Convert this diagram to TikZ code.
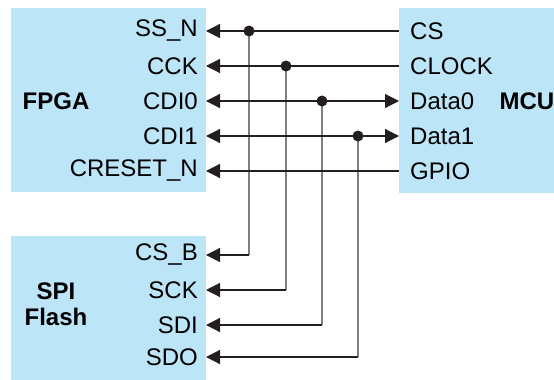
\documentclass[tikz,border=0pt]{standalone}
\usepackage{fontspec}
\setmainfont{Liberation Sans}
\usetikzlibrary{arrows.meta}
\definecolor{chipblue}{RGB}{189,229,248}
\definecolor{wire}{RGB}{35,31,32}
\definecolor{bus}{RGB}{128,128,128}
\begin{document}
\begin{tikzpicture}[x=1pt,y=-1pt]
    	\tikzstyle{chip}=[fill=chipblue, draw=none, anchor=north west, inner sep=0pt]
    	\tikzstyle{pinl}=[anchor=east, inner sep=0pt, font=\fontsize{24}{28}\selectfont]
    	\tikzstyle{pinr}=[anchor=west, inner sep=0pt, font=\fontsize{24}{28}\selectfont]
    	\tikzstyle{title}=[align=center, inner sep=0pt, font=\fontsize{24}{28}\selectfont\bfseries]
    	\tikzstyle{sig}=[draw=wire, line width=1.2pt, -{Triangle[length=14pt,width=14pt]}]
    	\tikzstyle{both}=[draw=wire, line width=1.2pt, {Triangle[length=14pt,width=14pt]}-{Triangle[length=14pt,width=14pt]}]
    	\tikzstyle{tap}=[draw=bus, line width=1.3pt]
    	\tikzstyle{dot}=[circle, fill=wire, inner sep=0pt, minimum size=11pt]
    	\useasboundingbox (0,0) rectangle (554,380);
    	
    	% Chips
    	\node at (11, 8) [chip, minimum width=195pt, minimum height=184pt] (fpga) {};
    	\node at (399, 8) [chip, minimum width=155pt, minimum height=185pt] (mcu) {};
    	\node at (11, 236) [chip, minimum width=195pt, minimum height=144pt] (flash) {};
    	\node at (56, 101) [title] (fpganame) {FPGA};
    	\node at (527, 101) [title] (mcuname) {MCU};
    	\node at (56, 304) [title] (flashname) {SPI\\[-2pt]Flash};
    	
    	% FPGA pins
    	\coordinate (ssn) at (206, 31);
    	\coordinate (cck) at (206, 66);
    	\coordinate (cdi0) at (206, 101);
    	\coordinate (cdi1) at (206, 136);
    	\coordinate (creset) at (206, 171);
    	\node at (198, 31) [pinl] (ssnl) {SS\_N};
    	\node at (198, 66) [pinl] (cckl) {CCK};
    	\node at (198, 101) [pinl] (cdi0l) {CDI0};
    	\node at (198, 136) [pinl] (cdi1l) {CDI1};
    	\node at (198, 171) [pinl] (creset_l) {CRESET\_N};
    	
    	% MCU pins
    	\coordinate (cs) at (399, 31);
    	\coordinate (clock) at (399, 66);
    	\coordinate (data0) at (399, 101);
    	\coordinate (data1) at (399, 136);
    	\coordinate (gpio) at (399, 171);
    	\node at (410, 31) [pinr] (csl) {CS};
    	\node at (410, 66) [pinr] (clockl) {CLOCK};
    	\node at (410, 101) [pinr] (data0l) {Data0};
    	\node at (410, 136) [pinr] (data1l) {Data1};
    	\node at (410, 171) [pinr] (gpiol) {GPIO};
    	
    	% Flash pins
    	\coordinate (csb) at (206, 255);
    	\coordinate (sck) at (206, 290);
    	\coordinate (sdi) at (206, 325);
    	\coordinate (sdo) at (206, 357);
    	\node at (198, 255) [pinl] (csbl) {CS\_B};
    	\node at (198, 290) [pinl] (sckl) {SCK};
    	\node at (198, 325) [pinl] (sdil) {SDI};
    	\node at (198, 357) [pinl] (sdol) {SDO};
    	
    	% Taps and bends
    	\coordinate (t1) at (249, 31);
    	\coordinate (t2) at (286, 66);
    	\coordinate (t3) at (322, 101);
    	\coordinate (t4) at (358, 136);
    	\coordinate (b1) at (249, 255);
    	\coordinate (b2) at (286, 290);
    	\coordinate (b3) at (322, 325);
    	\coordinate (b4) at (358, 357);
    	
    	\draw [tap] (t1) -- (b1);
    	\draw [tap] (t2) -- (b2);
    	\draw [tap] (t3) -- (b3);
    	\draw [tap] (t4) -- (b4);
    	
    	\draw [sig]  (cs) -- (ssn);
    	\draw [sig]  (clock) -- (cck);
    	\draw [both] (data0) -- (cdi0);
    	\draw [both] (data1) -- (cdi1);
    	\draw [sig]  (gpio) -- (creset);
    	
    	\draw [sig] (b1) -- (csb);
    	\draw [sig] (b2) -- (sck);
    	\draw [sig] (b3) -- (sdi);
    	\draw [sig] (b4) -- (sdo);
    	
    	\node at (t1) [dot] (j1) {};
    	\node at (t2) [dot] (j2) {};
    	\node at (t3) [dot] (j3) {};
    	\node at (t4) [dot] (j4) {};
    \end{tikzpicture}
\end{document}
